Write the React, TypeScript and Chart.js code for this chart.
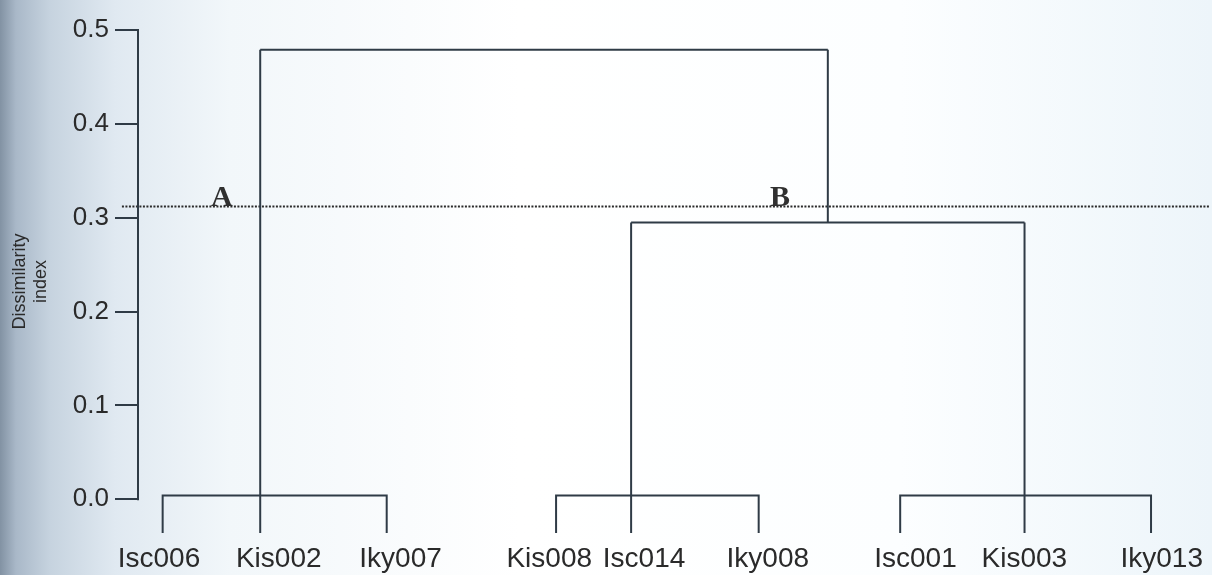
import React, { useEffect, useRef } from 'react';
import { Chart, registerables } from 'chart.js';

Chart.register(...registerables);

// Leaves in dendrogram order and their positions along the leaf axis (0-100 units)
const leafNames = ['Isc006', 'Kis002', 'Iky007', 'Kis008', 'Isc014', 'Iky008', 'Isc001', 'Kis003', 'Iky013'];
const leafPositions = [2.3, 11.4, 23.2, 39.0, 46.0, 57.9, 71.1, 82.7, 94.5];
// Where each leaf's name is centred in the original figure (same units)
const leafLabelPositions = [1.96, 13.13, 24.49, 38.36, 47.21, 58.75, 72.53, 82.68, 95.5];
// Three first-level clusters (indices of leaves) and their merge heights
const clusterMembers = [[0, 1, 2], [3, 4, 5], [6, 7, 8]];
const clusterHeights = [0.004, 0.004, 0.004];
// Higher-level merges
const groupBHeight = 0.295;
const rootHeight = 0.479;
const leafBaseline = -0.036;
// Cut line and group labels
const cutLevel = 0.312;
const cutLineStart = -1.5;
const groupLabels = ['A', 'B'];
const groupLabelPositions = [7.82, 59.9];
// Y ticks
const yTickValues = [0, 0.1, 0.2, 0.3, 0.4, 0.5];
const yTitle = ['Dissimilarity', 'index'];

const LINE = '#2f3b46';
const TEXT = '#2a2a2a';
const SANS = '"Liberation Sans", Arial, sans-serif';

function buildSegments() {
  const segs: { x: number; y: number }[][] = [];
  const mids: number[] = [];
  clusterMembers.forEach((m, i) => {
    const h = clusterHeights[i];
    const a = leafPositions[m[0]];
    const c = leafPositions[m[m.length - 1]];
    segs.push([
      { x: a, y: leafBaseline },
      { x: a, y: h },
      { x: c, y: h },
      { x: c, y: leafBaseline },
    ]);
    mids.push(leafPositions[m[1]]);
  });
  // middle leaf of cluster A rises to root
  segs.push([{ x: mids[0], y: leafBaseline }, { x: mids[0], y: rootHeight }]);
  // middle leaves of the two B sub-clusters rise to group B height
  segs.push([{ x: mids[1], y: leafBaseline }, { x: mids[1], y: groupBHeight }]);
  segs.push([{ x: mids[2], y: leafBaseline }, { x: mids[2], y: groupBHeight }]);
  // group B horizontal
  segs.push([{ x: mids[1], y: groupBHeight }, { x: mids[2], y: groupBHeight }]);
  const bx = (mids[1] + mids[2]) / 2;
  segs.push([{ x: bx, y: groupBHeight }, { x: bx, y: rootHeight }]);
  // root horizontal
  segs.push([{ x: mids[0], y: rootHeight }, { x: bx, y: rootHeight }]);
  return segs;
}

const overlayPlugin = {
  id: 'overlay',
  afterDatasetsDraw(chart: any) {
    const { ctx, scales } = chart;
    const y = scales.y;
    const x = scales.x;
    ctx.save();
    // y axis line from 0 to 0.5
    ctx.strokeStyle = LINE;
    ctx.lineWidth = 2;
    ctx.beginPath();
    ctx.moveTo(chart.chartArea.left, y.getPixelForValue(yTickValues[0]) + 1);
    ctx.lineTo(chart.chartArea.left, y.getPixelForValue(yTickValues[yTickValues.length - 1]) - 1);
    ctx.stroke();
    // group labels
    ctx.fillStyle = '#303030';
    ctx.font = 'bold 30px "Liberation Serif", "Times New Roman", serif';
    ctx.textAlign = 'center';
    ctx.textBaseline = 'alphabetic';
    groupLabels.forEach((t, i) => {
      ctx.fillText(t, x.getPixelForValue(groupLabelPositions[i]), y.getPixelForValue(cutLevel));
    });
    ctx.restore();
  },
};

export default function App() {
  const ref = useRef<HTMLCanvasElement>(null);
  useEffect(() => {
    if (!ref.current) return;
    const segs = buildSegments();
    const datasets: any[] = segs.map((s) => ({
      data: s,
      borderColor: LINE,
      borderWidth: 2,
      pointRadius: 0,
      fill: false,
      tension: 0,
      showLine: true,
    }));
    datasets.push({
      data: [{ x: cutLineStart, y: cutLevel }, { x: 100, y: cutLevel }],
      borderColor: '#2a2a2a',
      borderWidth: 2,
      borderDash: [2, 1.5],
      pointRadius: 0,
      fill: false,
      showLine: true,
      clip: false,
    });
    const chart = new Chart(ref.current, {
      type: 'line',
      data: { datasets },
      plugins: [overlayPlugin],
      options: {
        animation: false,
        responsive: false,
        layout: { padding: { top: 30, right: 0, left: 0, bottom: 0 } },
        plugins: { legend: { display: false }, tooltip: { enabled: false } },
        scales: {
          x: {
            type: 'linear',
            min: 0,
            max: 100,
            border: { display: false },
            grid: { display: false, drawTicks: false },
            afterBuildTicks: (scale: any) => {
              scale.ticks = leafLabelPositions.map((v) => ({ value: v }));
            },
            afterFit: (scale: any) => {
              scale.height = 42;
            },
            ticks: {
              autoSkip: false,
              maxRotation: 0,
              padding: 9,
              color: TEXT,
              font: { family: SANS, size: 28 },
              callback: (v: any) => {
                const i = leafLabelPositions.indexOf(Number(v));
                return i >= 0 ? leafNames[i] : '';
              },
            },
          },
          y: {
            type: 'linear',
            min: leafBaseline,
            max: yTickValues[yTickValues.length - 1],
            border: { display: false },
            grid: {
              drawOnChartArea: false,
              drawTicks: true,
              tickLength: 23,
              color: LINE,
              lineWidth: 2,
            },
            afterBuildTicks: (scale: any) => {
              scale.ticks = yTickValues.map((v) => ({ value: v }));
            },
            afterFit: (scale: any) => {
              scale.width = 138;
            },
            ticks: {
              padding: 6,
              color: TEXT,
              font: { family: SANS, size: 26 },
              callback: (v: any) => Number(v).toFixed(1),
            },
            title: {
              display: true,
              text: yTitle,
              color: TEXT,
              padding: { top: 9, bottom: 0 },
              font: { family: SANS, size: 18 },
            },
          },
        },
      } as any,
    });
    return () => chart.destroy();
  }, []);

  return (
    <div
      style={{
        position: 'fixed',
        left: 0,
        top: 0,
        width: 1212,
        height: 575,
        background:
          'linear-gradient(to right, #8292a3 0px, #a9b8c8 16px, #c6d3df 50px, #e0e9f1 115px, #f2f7fa 230px, #ffffff 520px, #fcfeff 900px, #edf5fa 1212px)',
      }}
    >
      <canvas ref={ref} width={1212} height={575} style={{ display: 'block' }} />
    </div>
  );
}
